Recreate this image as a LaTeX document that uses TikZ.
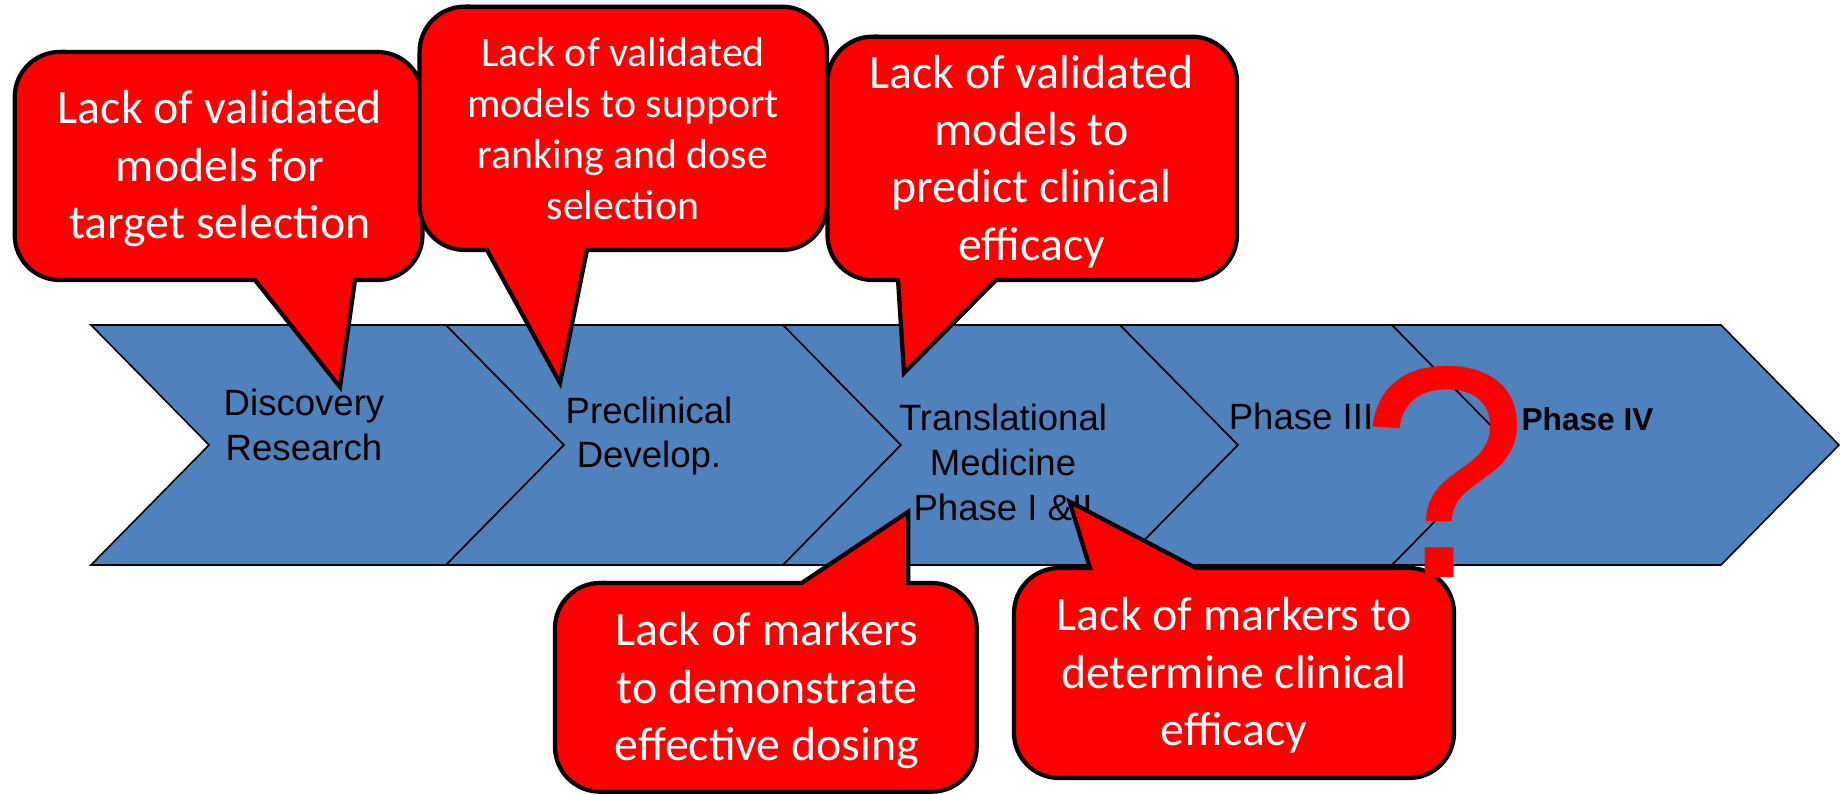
\documentclass[tikz,border=0pt]{standalone}
\usepackage{fontspec}
\newfontfamily\calloutfont{Carlito}
\newfontfamily\stagefont{Liberation Sans}
\definecolor{stageblue}{HTML}{4F81BD}
\definecolor{alertred}{HTML}{FF0000}

\newcommand{\cornerr}{0.45cm}
% chevron stage: top-left x, top-right x
\newcommand{\chevronstage}[2]{%
  \draw[stage] (#1,325) -- (#2,325) -- (#2+118,445) -- (#2,565) -- (#1,565) -- (#1+118,445) -- cycle;}
% speech bubble with its pointer below: L,T,R,B, pointer base left, pointer base right, tip
\newcommand{\calloutbelow}[7]{%
  \draw[callout] (#1+45,#2) -- (#3-45,#2) arc[start angle=90,end angle=0,radius=\cornerr]
    -- (#3,#4-45) arc[start angle=0,end angle=-90,radius=\cornerr]
    -- (#6,#4) -- (#7) -- (#5,#4)
    -- (#1+45,#4) arc[start angle=-90,end angle=-180,radius=\cornerr]
    -- (#1,#2+45) arc[start angle=180,end angle=90,radius=\cornerr] -- cycle;}
% speech bubble with its pointer above
\newcommand{\calloutabove}[7]{%
  \draw[callout] (#1+45,#2) -- (#5,#2) -- (#7) -- (#6,#2)
    -- (#3-45,#2) arc[start angle=90,end angle=0,radius=\cornerr]
    -- (#3,#4-45) arc[start angle=0,end angle=-90,radius=\cornerr]
    -- (#1+45,#4) arc[start angle=-90,end angle=-180,radius=\cornerr]
    -- (#1,#2+45) arc[start angle=180,end angle=90,radius=\cornerr] -- cycle;}
\newcommand{\lines}[1]{\begin{tabular}[t]{@{}c@{}}#1\end{tabular}}

\tikzset{
  stage/.style={fill=stageblue, draw=black, line width=0.45pt, line join=miter},
  callout/.style={fill=alertred, draw=black, line width=1.2pt, line join=miter, miter limit=20},
  stagelabel/.style={inner sep=0pt, anchor=base, text=black,
    font=\stagefont\fontsize{10.4}{12.7}\selectfont},
  callouttext/.style={inner sep=0pt, anchor=base, text=white,
    font=\calloutfont\fontsize{13.6}{16.3}\selectfont},
  qmark/.style={inner sep=0pt, anchor=base, text=alertred,
    font=\stagefont\fontsize{86}{86}\selectfont},
}

\begin{document}
\begin{tikzpicture}[x=0.01cm, y=-0.01cm]
\fill[white] (0,0) rectangle (1840,795);
\useasboundingbox (0,0) rectangle (1840,795);

% process chevrons
\chevronstage{91}{446}
\chevronstage{446}{783}
\chevronstage{783}{1120}
\chevronstage{1120}{1392}
\chevronstage{1392}{1721}

% stage labels
\node[stagelabel] (discovery) at (304,416) {\lines{Discovery\\Research}};
\node[stagelabel] (preclinical) at (649,423.3) {\lines{Preclinical\\Develop.}};
\node[stagelabel] (translational) at (1003,430.7) {\lines{Translational\\Medicine\\Phase I \&II}};
\node[stagelabel] (phase3) at (1301,430) {Phase III};
\node[stagelabel, font=\stagefont\bfseries\fontsize{9}{11}\selectfont] (phase4) at (1587.5,430.7) {Phase IV};

% speech bubbles above the chevrons
\calloutbelow{14.7}{52}{422.5}{280}{255}{355}{340,387}
\calloutbelow{419.6}{6.7}{827}{250}{487}{587}{560,383}
\calloutbelow{827.5}{36.7}{1237}{280}{898}{996}{904,373}
% speech bubbles below the chevrons
\calloutabove{555}{583}{976.7}{791.7}{801.7}{908.3}{908.3,511.7}
\calloutabove{1014}{568}{1454}{778}{1090}{1196}{1069.6,501.7}

% bubble texts
\node[callouttext] (gap1) at (220,124) {\lines{Lack of validated\\models for\\target selection}};
\node[callouttext, font=\calloutfont\fontsize{11.9}{14.5}\selectfont] (gap2) at (623,66.7)
  {\lines{Lack of validated\\models to support\\ranking and dose\\selection}};
\node[callouttext] (gap3) at (1031.5,88.3) {\lines{Lack of validated\\models to\\predict clinical\\efficacy}};
\node[callouttext] (gap4) at (767,645.7) {\lines{Lack of markers\\to demonstrate\\effective dosing}};
\node[callouttext] (gap5) at (1234,630.7) {\lines{Lack of markers to\\determine clinical\\efficacy}};

% open question over the late phases
\node[qmark] (query) at (1445,578) {?};
\end{tikzpicture}
\end{document}
